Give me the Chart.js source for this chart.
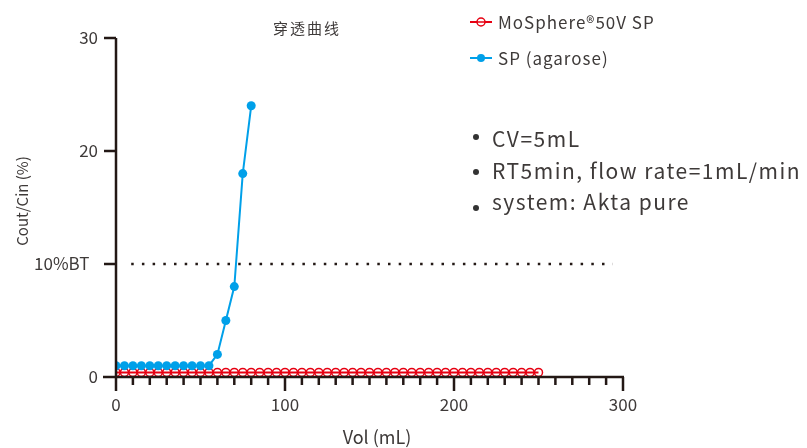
<!DOCTYPE html>
<html>
<head>
<meta charset="utf-8">
<script src="https://cdn.jsdelivr.net/npm/chart.js@4/dist/chart.umd.min.js"></script>
<style>
  html, body { margin: 0; padding: 0; background: #fff; }
</style>
</head>
<body>
<canvas id="chart" width="807" height="448"></canvas>
<script>
// data
const chartTitle = '穿透曲线';
const seriesNames = ['MoSphere®50V SP', 'SP (agarose)'];
const xTitle = 'Vol (mL)';
const yTitle = 'Cout/Cin (%)';
const moVol = [0, 5, 10, 15, 20, 25, 30, 35, 40, 45, 50, 55, 60, 65, 70, 75, 80, 85, 90, 95,
  100, 105, 110, 115, 120, 125, 130, 135, 140, 145, 150, 155, 160, 165, 170, 175, 180, 185, 190, 195,
  200, 205, 210, 215, 220, 225, 230, 235, 240, 245, 250];
const moCout = [0.4, 0.4, 0.4, 0.4, 0.4, 0.4, 0.4, 0.4, 0.4, 0.4, 0.4, 0.4, 0.4, 0.4, 0.4, 0.4, 0.4, 0.4, 0.4, 0.4,
  0.4, 0.4, 0.4, 0.4, 0.4, 0.4, 0.4, 0.4, 0.4, 0.4, 0.4, 0.4, 0.4, 0.4, 0.4, 0.4, 0.4, 0.4, 0.4, 0.4,
  0.4, 0.4, 0.4, 0.4, 0.4, 0.4, 0.4, 0.4, 0.4, 0.4, 0.4];
const agVol = [0, 5, 10, 15, 20, 25, 30, 35, 40, 45, 50, 55, 60, 65, 70, 75, 80];
const agCout = [1, 1, 1, 1, 1, 1, 1, 1, 1, 1, 1, 1, 2, 5, 8, 18, 24];
const btLevel = 10;
const btVol = [9, 294];
const xTickLabels = [0, 100, 200, 300];
const yTickLabels = { 0: '0', 10: '10%BT\u2002', 20: '20', 30: '30' };
const notes = ['CV=5mL', 'RT5min, flow rate=1mL/min', 'system: Akta pure'];

const RED = '#e60012';
const BLUE = '#00a0e9';
const INK = '#231815';
const TEXT = '#3e3a39';
const FONT = "'Noto Sans CJK SC', 'Noto Sans', sans-serif";

function pts(xs, ys) {
  return xs.map((x, i) => ({ x: x, y: ys[i] }));
}

// axis lines and tick marks (long at labelled ticks, short in between)
const axesPlugin = {
  id: 'axes',
  afterDatasetsDraw(chart) {
    const ctx = chart.ctx;
    const xs = chart.scales.x, ys = chart.scales.y;
    const x0 = xs.getPixelForValue(0), y0 = ys.getPixelForValue(0);
    ctx.save();
    ctx.strokeStyle = INK;
    ctx.lineWidth = 2.5;
    ctx.beginPath();
    ctx.moveTo(x0, ys.getPixelForValue(30));
    ctx.lineTo(x0, y0);
    ctx.moveTo(x0 - 13, y0);
    ctx.lineTo(xs.getPixelForValue(300) + 1, y0);
    xs.ticks.forEach(t => {
      const px = xs.getPixelForValue(t.value);
      const len = xTickLabels.includes(t.value) ? 14 : 8;
      ctx.moveTo(px, y0);
      ctx.lineTo(px, y0 + len);
    });
    ys.ticks.forEach(t => {
      const py = ys.getPixelForValue(t.value);
      ctx.moveTo(x0, py);
      ctx.lineTo(x0 - 12, py);
    });
    ctx.stroke();
    ctx.restore();
  }
};

// title, axis titles, legend and notes
const textPlugin = {
  id: 'texts',
  afterDraw(chart) {
    const ctx = chart.ctx;
    ctx.save();
    ctx.fillStyle = TEXT;
    ctx.textBaseline = 'middle';
    ctx.textAlign = 'center';
    ctx.font = '15px ' + FONT;
    ctx.letterSpacing = '2px';
    ctx.fillText(chartTitle, 307, 28);

    ctx.letterSpacing = '0px';
    ctx.font = '18px ' + FONT;
    ctx.fillText(xTitle, 377, 437);

    ctx.save();
    ctx.translate(22, 201);
    ctx.rotate(-Math.PI / 2);
    ctx.font = '15px ' + FONT;
    ctx.fillText(yTitle, 0, 0);
    ctx.restore();

    ctx.textAlign = 'left';
    ctx.font = '17px ' + FONT;
    ctx.letterSpacing = '1px';
    const legendY = [22, 58];
    const colors = [RED, BLUE];
    legendY.forEach((ly, i) => {
      ctx.strokeStyle = colors[i];
      ctx.lineWidth = 2;
      ctx.beginPath();
      ctx.moveTo(470, ly);
      ctx.lineTo(492, ly);
      ctx.stroke();
      ctx.beginPath();
      ctx.arc(481, ly, 4, 0, Math.PI * 2);
      if (i === 0) {
        ctx.fillStyle = '#fff';
        ctx.fill();
        ctx.lineWidth = 1.5;
        ctx.stroke();
        ctx.beginPath();
        ctx.moveTo(477, ly);
        ctx.lineTo(485, ly);
        ctx.stroke();
      } else {
        ctx.fillStyle = colors[i];
        ctx.fill();
      }
      ctx.fillStyle = TEXT;
      ctx.fillText(seriesNames[i], 498, ly + 1);
    });

    ctx.font = '21px ' + FONT;
    ctx.letterSpacing = '1.5px';
    const noteY = [139, 171, 202];
    const dotY = [137, 172, 208];
    notes.forEach((n, i) => {
      ctx.fillStyle = '#333';
      ctx.beginPath();
      ctx.arc(476, dotY[i], 3, 0, Math.PI * 2);
      ctx.fill();
      ctx.fillStyle = TEXT;
      ctx.fillText(n, 492, noteY[i]);
    });
    ctx.restore();
  }
};

new Chart(document.getElementById('chart'), {
  type: 'line',
  data: {
    datasets: [
      {
        label: seriesNames[1],
        data: pts(agVol, agCout),
        borderColor: BLUE,
        backgroundColor: BLUE,
        borderWidth: 2,
        pointRadius: 4.5,
        pointBorderWidth: 0,
        pointBackgroundColor: BLUE,
        tension: 0
      },
      {
        label: seriesNames[0],
        data: pts(moVol, moCout),
        borderColor: RED,
        backgroundColor: 'rgba(0,0,0,0)',
        borderWidth: 2,
        pointRadius: 4,
        pointBorderWidth: 1.5,
        pointBackgroundColor: 'rgba(0,0,0,0)',
        pointBorderColor: RED,
        tension: 0
      },
      {
        label: '10%BT',
        data: pts(btVol, [btLevel, btLevel]),
        borderColor: INK,
        borderWidth: 2.5,
        borderDash: [2.5, 8.2],
        pointRadius: 0,
        tension: 0
      }
    ]
  },
  options: {
    responsive: false,
    animation: false,
    layout: { padding: { top: 38, right: 184, left: 0, bottom: 0 } },
    plugins: {
      legend: { display: false },
      title: { display: false },
      tooltip: { enabled: false }
    },
    scales: {
      x: {
        type: 'linear',
        min: 0,
        max: 300,
        afterFit(s) { s.height = 71; },
        grid: { display: false, drawTicks: false },
        border: { display: false },
        ticks: {
          stepSize: 10,
          autoSkip: false,
          maxRotation: 0,
          padding: 17,
          color: TEXT,
          font: { family: FONT, size: 17 },
          callback: v => xTickLabels.includes(v) ? String(v) : ''
        }
      },
      y: {
        min: 0,
        max: 30,
        afterFit(s) { s.width = 116; },
        grid: { display: false, drawTicks: false },
        border: { display: false },
        ticks: {
          stepSize: 10,
          padding: 18,
          color: TEXT,
          font: { family: FONT, size: 17 },
          callback: v => yTickLabels[v] !== undefined ? yTickLabels[v] : ''
        }
      }
    }
  },
  plugins: [axesPlugin, textPlugin]
});
</script>
</body>
</html>
